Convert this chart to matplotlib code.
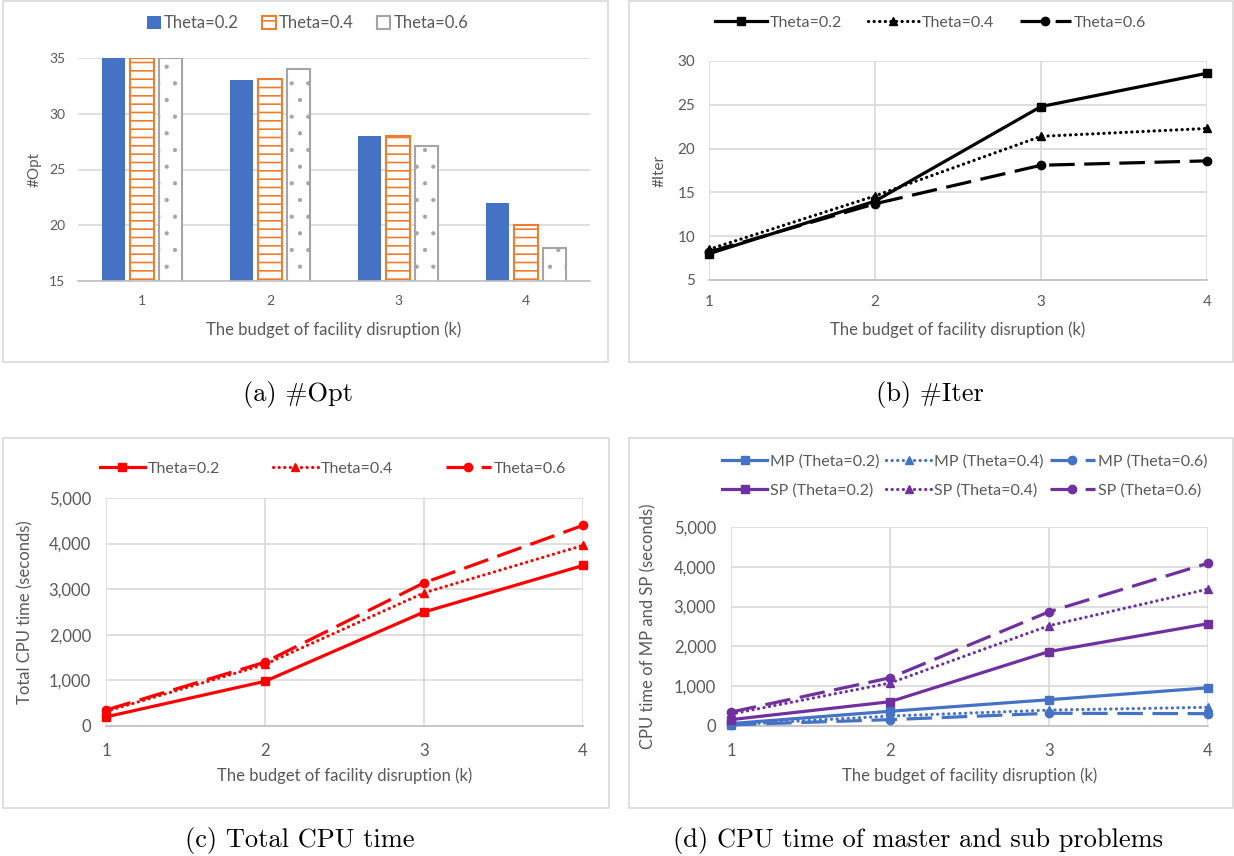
import matplotlib
matplotlib.use('Agg')
import matplotlib.pyplot as plt
from matplotlib.patches import Rectangle
from matplotlib.ticker import FuncFormatter

plt.rcParams['font.family'] = ['Lato', 'DejaVu Sans']
plt.rcParams['hatch.linewidth'] = 1.2

k = [1, 2, 3, 4]
labels = ['Theta=0.2', 'Theta=0.4', 'Theta=0.6']

# (a) #Opt
opt_02 = [35, 33, 28, 22]
opt_04 = [35, 33.1, 28, 20]
opt_06 = [35, 34, 27.1, 18]

# (b) #Iter
iter_02 = [8.0, 14.0, 24.8, 28.6]
iter_04 = [8.5, 14.6, 21.4, 22.3]
iter_06 = [8.2, 13.7, 18.1, 18.6]

# (c) total CPU time
cpu_02 = [200, 980, 2500, 3520]
cpu_04 = [320, 1350, 2920, 3960]
cpu_06 = [350, 1400, 3140, 4400]

# (d) CPU time of MP and SP
mp_02 = [60, 370, 660, 960]
mp_04 = [30, 250, 400, 470]
mp_06 = [30, 160, 320, 310]
sp_02 = [160, 610, 1870, 2570]
sp_04 = [300, 1080, 2520, 3440]
sp_06 = [350, 1210, 2870, 4090]

captions = ['(a) #Opt', '(b) #Iter', '(c) Total CPU time',
            '(d) CPU time of master and sub problems']

W, H = 1234, 856
GRAY_TXT = '#595959'
GRID = '#D9D9D9'
fig = plt.figure(figsize=(W / 100, H / 100), dpi=100)


def px_axes(x0, y0, x1, y1):
    return fig.add_axes([x0 / W, 1 - y1 / H, (x1 - x0) / W, (y1 - y0) / H])


def fpt(x, y):
    return (x / W, 1 - y / H)


def box(x0, y0, x1, y1):
    fig.patches.append(Rectangle(fpt(x0, y1), (x1 - x0) / W, (y1 - y0) / H,
                                 transform=fig.transFigure, fill=False,
                                 edgecolor=GRID, lw=1.2))


def style(ax, size, vgrid):
    for s in ['top', 'right', 'left']:
        ax.spines[s].set_visible(False)
    ax.spines['bottom'].set_color('#BFBFBF')
    ax.spines['bottom'].set_linewidth(1.2)
    ax.tick_params(length=0, labelsize=size, colors=GRAY_TXT)
    ax.tick_params(axis='y', pad=size * 0.9)
    ax.tick_params(axis='x', pad=size * 1.0)
    ax.grid(axis='y', color=GRID, lw=1.2)
    if vgrid:
        ax.grid(axis='x', color=GRID, lw=1.2)
    ax.set_axisbelow(True)


def labels_at(ax, xl, yl, size, xlab_y, ylab_x, ax_px):
    x0, y0, x1, y1 = ax_px
    ax.set_xlabel(xl, fontsize=12, color=GRAY_TXT, va='center')
    ax.set_ylabel(yl, fontsize=size, color=GRAY_TXT, va='center')
    ax.xaxis.set_label_coords(0.5, (y1 - xlab_y) / (y1 - y0))
    ax.yaxis.set_label_coords((ylab_x - x0) / (x1 - x0), 0.5)


comma = FuncFormatter(lambda v, p: f'{int(v):,}')
xlab = 'The budget of facility disruption (k)'

# ---------- (a) ----------
box(3, 1, 608, 362)
pa = (78, 58, 590, 281)
ax = px_axes(*pa)
style(ax, 10, False)
w = 0.18
off = 0.225
ax.bar([v - off for v in k], opt_02, w, color='#4472C4', label=labels[0], zorder=2)
ax.bar(k, opt_04, w, color='white', edgecolor='#ED7D31', hatch='--',
       lw=1.5, label=labels[1], zorder=2)
with plt.rc_context({'hatch.linewidth': 0.6}):
    ax.bar([v + off for v in k], opt_06, w, color='white', edgecolor='#A5A5A5',
           hatch='.', lw=1.5, label=labels[2], zorder=2)
ax.set_ylim(15, 35)
ax.set_xlim(0.5, 4.5)
ax.set_xticks(k)
ax.set_yticks([15, 20, 25, 30, 35])
labels_at(ax, xlab, '#Opt', 11, 330, 35, pa)
ax.legend(loc='center', bbox_to_anchor=fpt(308, 23), bbox_transform=fig.transFigure,
          ncol=3, frameon=False, fontsize=12, labelcolor=GRAY_TXT,
          handlelength=0.8, handleheight=0.8, handletextpad=0.2, columnspacing=1.4)

# ---------- line panels ----------
dash = (0, (8, 3))
dot = (0, (0.05, 1.7))


def draw_lines(ax, ys, color, names, lw=2.3, ms=6):
    styles = ['-', dot, dash]
    marks = ['s', '^', 'o']
    hs = []
    for y, ls, m, nm in zip(ys, styles, marks, names):
        h, = ax.plot(k, y, color=color, ls=ls, marker=m, ms=ms, lw=lw,
                     label=nm, clip_on=False, zorder=3,
                     dash_capstyle='round' if ls is dot else 'butt')
        hs.append(h)
    return hs


# ---------- (b) ----------
box(629, 1, 1233, 362)
pb = (709, 61, 1207, 280)
ax = px_axes(*pb)
style(ax, 11, True)
draw_lines(ax, [iter_02, iter_04, iter_06], 'black', labels)
ax.set_xlim(1, 4)
ax.set_ylim(5, 30)
ax.set_xticks(k)
ax.set_yticks([5, 10, 15, 20, 25, 30])
labels_at(ax, xlab, '#Iter', 11, 330, 660, pb)
ax.legend(loc='center', bbox_to_anchor=fpt(931, 23), bbox_transform=fig.transFigure,
          ncol=3, frameon=False, fontsize=11.5, labelcolor=GRAY_TXT,
          handlelength=3.2, handletextpad=0.2, columnspacing=1.6)

# ---------- (c) ----------
box(3, 438, 609, 808)
pc = (106, 498, 583, 726)
ax = px_axes(*pc)
style(ax, 12, True)
draw_lines(ax, [cpu_02, cpu_04, cpu_06], '#FF0000', labels)
ax.set_xlim(1, 4)
ax.set_ylim(0, 5000)
ax.set_xticks(k)
ax.set_yticks(range(0, 5001, 1000))
ax.yaxis.set_major_formatter(comma)
labels_at(ax, xlab, 'Total CPU time (seconds)', 12, 776, 25, pc)
ax.legend(loc='center', bbox_to_anchor=fpt(333, 469), bbox_transform=fig.transFigure,
          ncol=3, frameon=False, fontsize=11.5, labelcolor=GRAY_TXT,
          handlelength=2.8, handletextpad=0.2, columnspacing=3.3)

# ---------- (d) ----------
box(629, 438, 1233, 808)
pd_ = (731, 527, 1208, 726)
ax = px_axes(*pd_)
style(ax, 12, True)
mp = draw_lines(ax, [mp_02, mp_04, mp_06], '#4472C4',
                ['MP (Theta=0.2)', 'MP (Theta=0.4)', 'MP (Theta=0.6)'])
sp = draw_lines(ax, [sp_02, sp_04, sp_06], '#7030A0',
                ['SP (Theta=0.2)', 'SP (Theta=0.4)', 'SP (Theta=0.6)'])
ax.set_xlim(1, 4)
ax.set_ylim(0, 5000)
ax.set_xticks(k)
ax.set_yticks(range(0, 5001, 1000))
ax.yaxis.set_major_formatter(comma)
labels_at(ax, xlab, 'CPU time of MP and SP (seconds)', 12, 776, 648, pd_)
order = [mp[0], sp[0], mp[1], sp[1], mp[2], sp[2]]
ax.legend(handles=order, loc='center', bbox_to_anchor=fpt(965, 476),
          bbox_transform=fig.transFigure, ncol=3, frameon=False, fontsize=11.5,
          labelcolor=GRAY_TXT, handlelength=2.8, handletextpad=0.2,
          columnspacing=0.4, labelspacing=0.9)

# ---------- captions ----------
for txt, (cx, cy) in zip(captions, [(298, 394), (930, 394), (300, 840), (918, 840)]):
    fig.text(cx / W, 1 - cy / H, txt, family='cmr10', fontsize=19,
             ha='center', va='center')

fig.savefig('out.png', dpi=100)
